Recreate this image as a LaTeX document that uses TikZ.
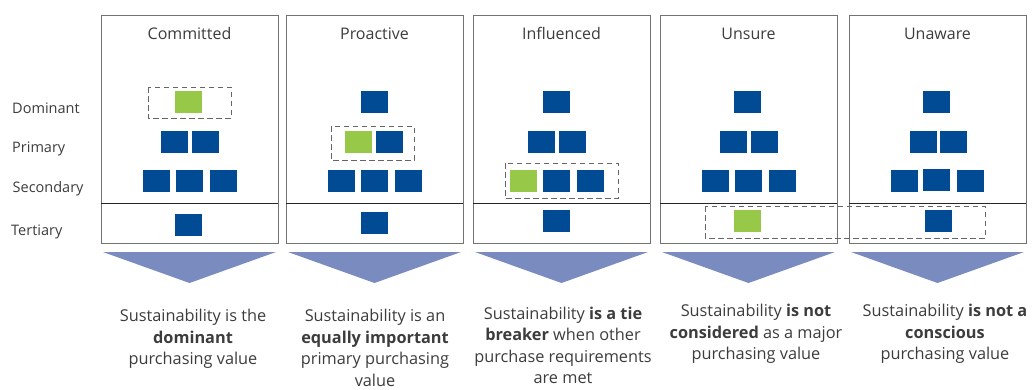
\documentclass[tikz,border=0pt]{standalone}
\usepackage{fontspec}
\setmainfont{Open Sans}
\definecolor{sqblue}{RGB}{0,75,147}
\definecolor{sqgreen}{RGB}{151,200,71}
\definecolor{wedgeblue}{RGB}{122,139,192}
\definecolor{txtgray}{RGB}{60,60,60}
\begin{document}
\begin{tikzpicture}[x=1pt,y=-1pt,
  blk/.style={fill=sqblue,minimum width=27pt,minimum height=22pt,inner sep=0pt},
  grn/.style={blk,fill=sqgreen},
  colbox/.style={draw=black!55,line width=0.9pt},
  rule/.style={draw=black!85,line width=0.9pt},
  hilite/.style={draw=black!60,dash pattern=on 5.5pt off 3.5pt,line width=0.9pt},
  lvl/.style={anchor=base west,inner sep=0pt,font=\fontsize{14.5}{17}\selectfont,text=txtgray},
  head/.style={anchor=base,inner sep=0pt,font=\fontsize{16}{19}\selectfont,text=txtgray},
  desc/.style={anchor=north,inner sep=0pt,align=center,font=\fontsize{16.3}{21.5}\selectfont,text=txtgray},
  wedge/.style={fill=wedgeblue}]
\useasboundingbox (0,0) rectangle (1032,389);
\node[lvl] (ldom) at (12,113) {Dominant};
\node[lvl] (lpri) at (12,152) {Primary};
\node[lvl] (lsec) at (12.5,192) {Secondary};
\node[lvl] (lter) at (11,235) {Tertiary};
\draw[colbox] (101,15) rectangle (278,243);
\draw[rule] (101,203) -- (278,203);
\draw[colbox] (286,15) rectangle (463,243);
\draw[rule] (286,203) -- (463,203);
\draw[colbox] (473,15) rectangle (650,243);
\draw[rule] (473,203) -- (650,203);
\draw[colbox] (660,15) rectangle (837,243);
\draw[rule] (660,203) -- (837,203);
\draw[colbox] (849,15) rectangle (1026,243);
\draw[rule] (849,203) -- (1026,203);
\node[head] (h1) at (189.5,39) {Committed};
\node[head] (h2) at (374.5,39) {Proactive};
\node[head] (h3) at (561.5,39) {Influenced};
\node[head] (h4) at (748.5,39) {Unsure};
\node[head] (h5) at (937.5,39) {Unaware};
\node[grn] (c1d) at (188.5,102) {};
\node[blk] (c1p1) at (174.5,142) {};
\node[blk] (c1p2) at (205.5,142) {};
\node[blk] (c1s1) at (156.5,181) {};
\node[blk] (c1s2) at (189.5,181) {};
\node[blk] (c1s3) at (223.5,181) {};
\node[blk] (c1t) at (188.5,225) {};
\node[blk] (c2d) at (374.5,102) {};
\node[grn] (c2p1) at (358.5,142) {};
\node[blk] (c2p2) at (389.5,142) {};
\node[blk] (c2s1) at (341.5,181) {};
\node[blk] (c2s2) at (374.5,181) {};
\node[blk] (c2s3) at (408.5,181) {};
\node[blk] (c2t) at (374.5,223) {};
\node[blk] (c3d) at (556.5,102) {};
\node[blk] (c3p1) at (541.5,142) {};
\node[blk] (c3p2) at (572.5,142) {};
\node[grn] (c3s1) at (523.5,181) {};
\node[blk] (c3s2) at (556.5,181) {};
\node[blk] (c3s3) at (590.5,181) {};
\node[blk] (c3t) at (556.5,221) {};
\node[blk] (c4d) at (747.5,102) {};
\node[blk] (c4p1) at (733.5,142) {};
\node[blk] (c4p2) at (764.5,142) {};
\node[blk] (c4s1) at (715.5,181) {};
\node[blk] (c4s2) at (748.5,181) {};
\node[blk] (c4s3) at (782.5,181) {};
\node[grn] (c4t) at (747.5,221) {};
\node[blk] (c5d) at (936.5,102) {};
\node[blk] (c5p1) at (923.5,142) {};
\node[blk] (c5p2) at (953.5,142) {};
\node[blk] (c5s1) at (904.5,181) {};
\node[blk] (c5s2) at (936.5,180) {};
\node[blk] (c5s3) at (970.5,181) {};
\node[blk] (c5t) at (938.5,221) {};
\draw[hilite] (148,87) rectangle (231,118);
\draw[hilite] (331,126) rectangle (414,160);
\draw[hilite] (505,163) rectangle (618,198);
\draw[hilite] (705,206) rectangle (985,238);
\fill[wedge] (103,252) -- (276,252) -- (189.5,283) -- cycle;
\fill[wedge] (288,252) -- (461,252) -- (374.5,283) -- cycle;
\fill[wedge] (475,252) -- (648,252) -- (561.5,283) -- cycle;
\fill[wedge] (662,252) -- (835,252) -- (748.5,283) -- cycle;
\fill[wedge] (851,252) -- (1024,252) -- (937.5,283) -- cycle;
\node[desc] (d1) at (193,309) {Sustainability is the\\\textbf{dominant}\\purchasing value};
\node[desc] (d2) at (375,309) {Sustainability is an\\\textbf{equally important}\\primary purchasing\\value};
\node[desc] (d3) at (563,306.5) {Sustainability \textbf{is a tie}\\\textbf{breaker} when other\\purchase requirements\\are met};
\node[desc] (d4) at (756,304) {Sustainability \textbf{is not}\\\textbf{considered} as a major\\purchasing value};
\node[desc] (d5) at (945,304) {Sustainability \textbf{is not a}\\\textbf{conscious}\\purchasing value};
\end{tikzpicture}
\end{document}
